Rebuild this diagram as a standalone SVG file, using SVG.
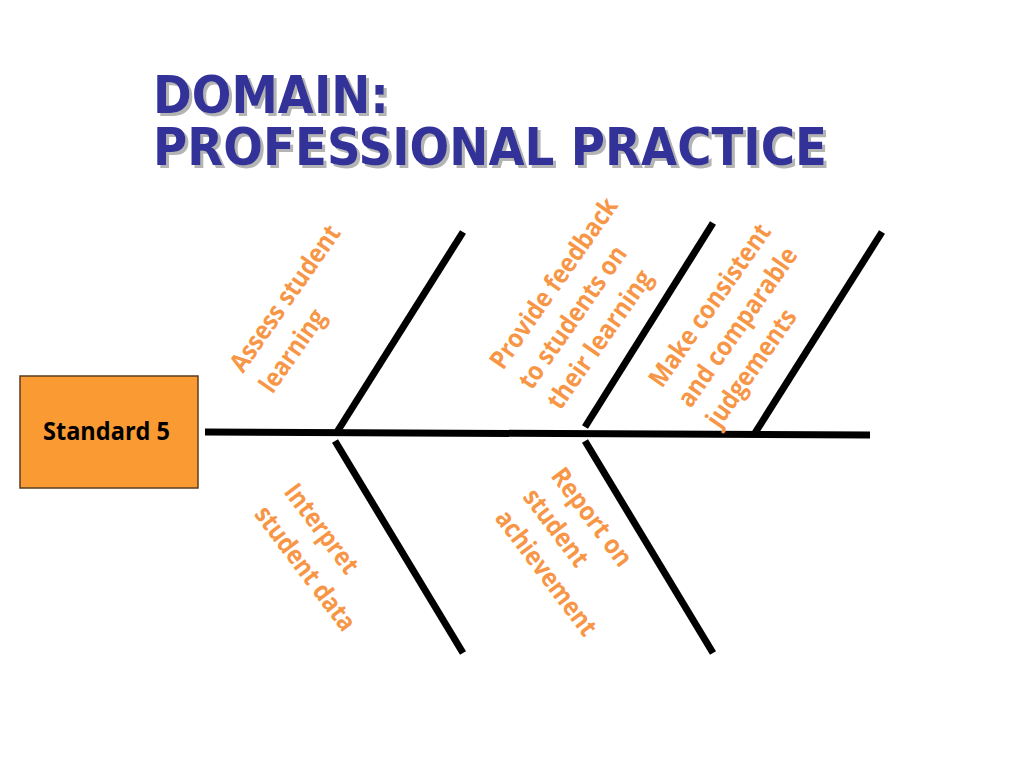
<svg xmlns="http://www.w3.org/2000/svg" width="1024" height="768" viewBox="0 0 1024 768">
<defs>
<filter id="shadow" x="-5%" y="-20%" width="115%" height="150%">
<feOffset in="SourceAlpha" dx="3" dy="3" result="off"/>
<feFlood flood-color="#b4b4b4"/>
<feComposite in2="off" operator="in" result="sh"/>
<feMerge><feMergeNode in="sh"/><feMergeNode in="SourceGraphic"/></feMerge>
</filter>
</defs>
<style>
.title{font-family:"DejaVu Sans","Liberation Sans",sans-serif;font-weight:bold;font-size:51px;fill:#333399;}
.bone{stroke:#000;stroke-width:7;fill:none;stroke-linecap:butt;}
.lbl{font-family:"Open Sans","Liberation Sans",sans-serif;font-weight:bold;font-size:26px;fill:#F79646;}
.box{fill:#F99A33;stroke:#5A3C1E;stroke-width:1.5;}
.boxt{font-family:"Open Sans","Liberation Sans",sans-serif;font-weight:bold;font-size:25px;fill:#000;}
</style>
<rect width="1024" height="768" fill="#fff"/>
<g id="title" filter="url(#shadow)">
<text class="title" x="153" y="113" textLength="236" lengthAdjust="spacingAndGlyphs">DOMAIN:</text>
<text class="title" x="153" y="165" textLength="674" lengthAdjust="spacingAndGlyphs">PROFESSIONAL PRACTICE</text>
</g>
<g id="connectors">
<line class="bone" x1="205" y1="432" x2="870" y2="435"/>
<line class="bone" x1="337" y1="432" x2="463" y2="232"/>
<line class="bone" x1="585" y1="427" x2="713" y2="223"/>
<line class="bone" x1="755" y1="433" x2="882" y2="232"/>
<line class="bone" x1="335" y1="441" x2="463" y2="653"/>
<line class="bone" x1="585" y1="441" x2="713" y2="653"/>
</g>
<g id="standard5">
<rect class="box" x="20" y="376" width="178" height="112"/>
<text class="boxt" x="106.5" y="440" text-anchor="middle" textLength="127" lengthAdjust="spacingAndGlyphs">Standard 5</text>
</g>
<g id="assess" transform="translate(243,374) rotate(-55)">
<text class="lbl" x="0" y="0" textLength="172" lengthAdjust="spacingAndGlyphs">Assess student</text>
<text class="lbl" x="0" y="36" textLength="95" lengthAdjust="spacingAndGlyphs">learning</text>
</g>
<g id="feedback" transform="translate(503,371) rotate(-55)">
<text class="lbl" x="0" y="0" textLength="202" lengthAdjust="spacingAndGlyphs">Provide feedback</text>
<text class="lbl" x="0" y="35" textLength="168" lengthAdjust="spacingAndGlyphs">to students on</text>
<text class="lbl" x="0" y="70" textLength="163" lengthAdjust="spacingAndGlyphs">their  learning</text>
</g>
<g id="consistent" transform="translate(662,389) rotate(-55)">
<text class="lbl" x="0" y="0" textLength="192" lengthAdjust="spacingAndGlyphs">Make consistent</text>
<text class="lbl" x="0" y="35" textLength="188" lengthAdjust="spacingAndGlyphs">and comparable</text>
<text class="lbl" x="0" y="70" textLength="137" lengthAdjust="spacingAndGlyphs">judgements</text>
</g>
<g id="interpret" transform="translate(283,492) rotate(53)">
<text class="lbl" x="0" y="0" textLength="105" lengthAdjust="spacingAndGlyphs">Interpret</text>
<text class="lbl" x="0" y="37" textLength="149" lengthAdjust="spacingAndGlyphs">student data</text>
</g>
<g id="report" transform="translate(550,476) rotate(53)">
<text class="lbl" x="0" y="0" textLength="116" lengthAdjust="spacingAndGlyphs">Report on</text>
<text class="lbl" x="0" y="35" textLength="90" lengthAdjust="spacingAndGlyphs">student</text>
<text class="lbl" x="0" y="70" textLength="150" lengthAdjust="spacingAndGlyphs">achievement</text>
</g>
</svg>
